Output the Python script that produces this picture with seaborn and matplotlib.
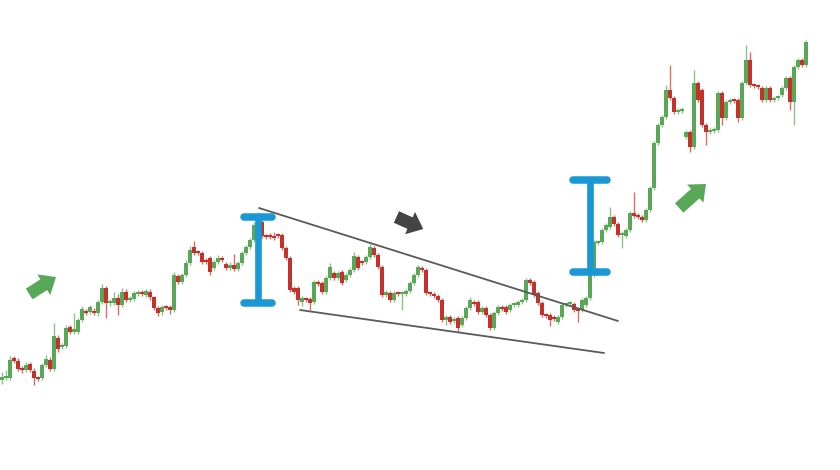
import numpy as np
import matplotlib
matplotlib.use("Agg")
import matplotlib.pyplot as plt
import seaborn as sns
import pandas as pd

# candle prices (arbitrary price units, one candle per slot)
opens = [100, 102, 102, 122, 119, 111, 110, 116, 109, 102, 102, 115, 120, 111, 142, 133, 134, 153, 148, 148,
         160, 169, 168, 168, 167, 178, 192, 177, 177, 182, 175, 188, 180, 181, 186, 187, 185, 188, 183, 172,
         168, 173, 173, 170, 204, 198, 205, 217, 233, 228, 227, 220, 222, 212, 218, 221, 216, 212, 215, 211,
         217, 227, 233, 240, 255, 258, 244, 245, 244, 245, 245, 232, 222, 192, 192, 178, 181, 181, 178, 198,
         197, 188, 202, 207, 202, 208, 200, 205, 210, 223, 218, 218, 223, 232, 225, 213, 185, 187, 180, 187,
         186, 186, 189, 197, 205, 212, 210, 187, 186, 184, 180, 160, 163, 159, 162, 155, 162, 172, 177, 178,
         168, 172, 165, 152, 167, 173, 173, 170, 175, 175, 178, 180, 200, 198, 187, 177, 165, 165, 163, 158,
         163, 175, 176, 176, 171, 170, 175, 182, 205, 237, 238, 250, 253, 263, 256, 245, 244, 250, 267, 265,
         263, 260, 270, 292, 337, 355, 363, 390, 382, 368, 369, 343, 348, 333, 397, 390, 355, 348, 349, 350,
         387, 362, 378, 380, 380, 362, 397, 420, 395, 394, 392, 380, 392, 380, 382, 385, 392, 402, 378, 413,
         420, 415]
closes = [103, 104, 120, 119, 111, 110, 115, 110, 102, 101, 115, 121, 111, 144, 131, 134, 152, 148, 151, 160,
          171, 167, 173, 167, 178, 192, 177, 178, 182, 175, 188, 180, 181, 187, 188, 186, 189, 183, 172, 167,
          173, 172, 170, 205, 198, 205, 217, 230, 227, 227, 218, 218, 208, 218, 222, 220, 212, 215, 211, 217,
          227, 233, 240, 255, 263, 244, 243, 243, 242, 244, 232, 222, 190, 188, 180, 182, 180, 177, 198, 196,
          188, 202, 213, 202, 207, 197, 205, 210, 224, 212, 217, 223, 233, 225, 213, 185, 188, 180, 187, 186,
          187, 189, 197, 205, 213, 210, 187, 186, 184, 180, 160, 163, 158, 161, 152, 162, 172, 180, 176, 168,
          172, 165, 152, 167, 173, 171, 168, 175, 176, 178, 180, 200, 197, 185, 177, 165, 164, 160, 161, 163,
          175, 176, 177, 170, 169, 180, 182, 205, 238, 238, 250, 255, 263, 256, 245, 247, 250, 267, 264, 263,
          260, 270, 292, 337, 355, 363, 390, 382, 368, 369, 370, 348, 333, 397, 380, 355, 348, 350, 351, 387,
          362, 378, 380, 379, 362, 397, 420, 395, 394, 393, 380, 392, 380, 382, 383, 392, 402, 378, 413, 420,
          415, 438]
highs = [108, 110, 124, 124, 122, 114, 118, 118, 112, 104, 117, 125, 123, 157, 145, 137, 155, 155, 167, 162,
         174, 171, 175, 172, 180, 196, 194, 181, 188, 186, 192, 191, 184, 189, 190, 190, 191, 191, 184, 174,
         175, 175, 175, 208, 206, 207, 220, 234, 239, 230, 229, 222, 224, 220, 225, 224, 218, 218, 226, 219,
         229, 235, 242, 258, 268, 260, 246, 247, 248, 247, 247, 234, 224, 194, 194, 184, 183, 183, 200, 200,
         199, 204, 217, 209, 209, 210, 207, 212, 228, 225, 220, 225, 236, 234, 227, 215, 190, 189, 189, 189,
         189, 191, 199, 207, 215, 214, 212, 189, 188, 186, 182, 165, 165, 163, 164, 164, 174, 183, 180, 180,
         174, 174, 167, 169, 175, 175, 175, 177, 178, 180, 182, 202, 202, 200, 189, 179, 167, 167, 165, 165,
         177, 178, 179, 178, 173, 182, 184, 207, 240, 240, 252, 257, 273, 265, 258, 249, 252, 269, 288, 267,
         265, 272, 294, 339, 357, 365, 395, 415, 384, 372, 373, 350, 350, 410, 399, 392, 357, 352, 353, 389,
         389, 380, 382, 382, 382, 399, 435, 428, 397, 396, 394, 394, 394, 384, 385, 394, 404, 404, 415, 422,
         422, 440]
lows = [96, 100, 100, 117, 109, 107, 108, 108, 95, 99, 100, 113, 109, 109, 128, 131, 132, 146, 146, 146,
        158, 165, 166, 165, 164, 176, 162, 174, 175, 165, 173, 178, 178, 179, 184, 184, 183, 180, 170, 164,
        165, 170, 166, 168, 196, 196, 203, 215, 225, 225, 216, 216, 205, 210, 216, 218, 210, 210, 209, 209,
        215, 225, 231, 238, 253, 242, 241, 241, 240, 242, 230, 220, 188, 186, 175, 174, 178, 170, 176, 194,
        186, 186, 200, 200, 200, 195, 198, 203, 208, 210, 215, 216, 221, 223, 211, 183, 183, 178, 178, 184,
        170, 184, 187, 195, 203, 208, 185, 184, 182, 178, 158, 155, 156, 157, 148, 153, 160, 170, 174, 166,
        166, 163, 150, 150, 165, 169, 166, 168, 173, 173, 176, 178, 195, 183, 175, 163, 162, 154, 159, 156,
        161, 173, 174, 168, 158, 168, 173, 180, 203, 235, 236, 248, 251, 254, 243, 232, 242, 248, 262, 261,
        258, 258, 268, 290, 335, 353, 361, 380, 366, 366, 367, 341, 328, 331, 378, 353, 335, 346, 347, 348,
        355, 360, 376, 377, 358, 360, 395, 393, 392, 391, 378, 378, 378, 378, 380, 383, 390, 370, 355, 411,
        413, 413]

# falling wedge, breakout height markers and direction arrows (candle slot, price)
wedge_top = [(64.25, 272), (154.0, 159)]
wedge_bottom = [(74.5, 170), (150.5, 127)]
height_left = [(64.0, 263), (64.0, 177)]
height_right = [(147.0, 300), (147.0, 208)]
arrow_trend_in = [(6.8, 186), (13.5, 203)]
arrow_wedge = [(98.6, 263), (105.3, 251)]
arrow_trend_out = [(169.3, 272), (176.0, 296)]

df = pd.DataFrame({"open": opens, "close": closes, "high": highs, "low": lows})
df["slot"] = np.arange(len(df))
df["up"] = df.close >= df.open

sns.set_theme(style="white")
green, red = "#58a858", "#c4322b"
blue = "#1a98d5"

fig = plt.figure(figsize=(8.4, 4.7), dpi=100)
ax = fig.add_axes([0, 0, 1, 1])

cols = np.where(df.up, green, red)
ax.vlines(df.slot, df.low, df.high, colors=cols, lw=1.0, alpha=0.7, zorder=2)
body_lo = df[["open", "close"]].min(axis=1)
body_h = (df.close - df.open).abs().clip(lower=1.8)
ax.bar(df.slot, body_h, bottom=body_lo, width=0.9, color=cols, linewidth=0, zorder=3)

# wedge lines
for line in (wedge_top, wedge_bottom):
    xs, ys = zip(*line)
    ax.plot(xs, ys, c="#5a5a5a", lw=1.3, zorder=4)

# measuring brackets
for br, half in ((height_left, 3.4), (height_right, 4.2)):
    (x0, top), (_, bot) = br
    ax.plot([x0, x0], [top, bot], c=blue, lw=4.8, solid_capstyle="butt", zorder=5)
    for yy in (top, bot):
        ax.plot([x0 - half, x0 + half], [yy, yy], c=blue, lw=5.4,
                solid_capstyle="round", zorder=5)

# block arrows
for arr, c in ((arrow_trend_in, green), (arrow_wedge, "#444444"), (arrow_trend_out, green)):
    (x0, y0), (x1, y1) = arr
    ax.annotate("", xy=(x1, y1), xytext=(x0, y0),
                arrowprops=dict(arrowstyle="simple,head_width=1.35,head_length=0.8,tail_width=0.7",
                                mutation_scale=13, color=c, shrinkA=0, shrinkB=0, lw=0))

ax.set_xlim(-0.5, 209.5)
ax.set_ylim(10, 480)
ax.axis("off")
fig.savefig("out.png", dpi=100, facecolor="white")
plt.close()
